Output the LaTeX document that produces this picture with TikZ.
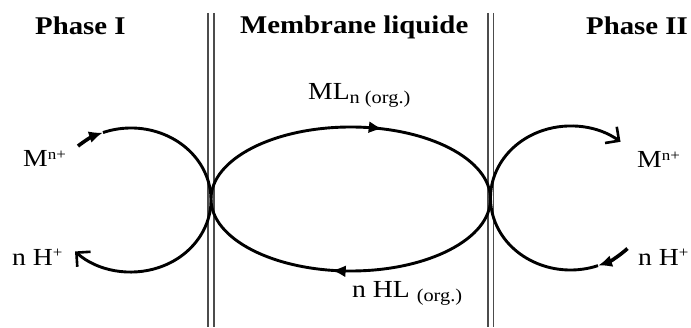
\documentclass[tikz,border=0pt]{standalone}
\usepackage{fontspec}
\usetikzlibrary{arrows.meta,decorations.markings,calc}
\newfontfamily\mainf[FakeStretch=1.13]{Liberation Serif}
\newcommand{\bigtxt}{\mainf\fontsize{24.5}{24.5}\selectfont}
\newcommand{\suptxt}[1]{\raisebox{7.5pt}{\mainf\fontsize{15}{15}\selectfont #1}}
\newcommand{\subtxt}[1]{\raisebox{-4pt}{\mainf\fontsize{18}{18}\selectfont #1}}
\begin{document}
\begin{tikzpicture}[x=1pt,y=1pt,
  wall/.style={line width=1.9pt,black!70},
  flow/.style={line width=2.9pt,black},
  title/.style={inner sep=0pt,anchor=base west,font=\mainf\fontsize{25.5}{25.5}\selectfont\bfseries},
  lbl/.style={inner sep=0pt,anchor=base west,font=\bigtxt},
  midtip/.style={-{Latex[length=14pt,width=12pt]}},
  endtip/.style={-{Straight Barb[length=10pt,width=20pt,line width=2.6pt]}}]
\useasboundingbox (0,0) rectangle (691,327);
% membrane walls
\coordinate (l1t) at (208,314); \coordinate (l1b) at (208,0);
\coordinate (l2t) at (214,314); \coordinate (l2b) at (214,0);
\coordinate (r1t) at (488,314); \coordinate (r1b) at (488,0);
\coordinate (r2t) at (493.5,314); \coordinate (r2b) at (493.5,0);
\draw[wall] (l1t) -- (l1b);
\draw[wall] (l2t) -- (l2b);
\draw[wall] (r1t) -- (r1b);
\draw[wall] (r2t) -- (r2b);
% titles
\node[title] (p1) at (35,292) {Phase I};
\node[title] (ml) at (240,293) {Membrane liquide};
\node[title] (p2) at (586,292) {Phase II};
% labels
\node[lbl] (m1) at (23,160) {M\suptxt{n+}};
\node[lbl] (h1) at (12,62) {n H\suptxt{+}};
\node[lbl] (m2) at (637,159) {M\suptxt{n+}};
\node[lbl] (h2) at (638,62) {n H\suptxt{+}};
\node[lbl] (mln) at (308,227) {ML\subtxt{n (org.)}};
\node[lbl] (hl) at (352,30) {n HL \subtxt{(org.)}};
% central ellipse (clockwise)
\coordinate (ec) at (350.75,128);
\draw[flow,postaction={decorate},decoration={markings,
   mark=at position 0.297 with {\arrow{Latex[length=14pt,width=12pt]}},
   mark=at position 0.778 with {\arrow{Latex[length=14pt,width=12pt]}}}]
  ([xshift=-139.75pt]ec) arc[start angle=180,end angle=-180,x radius=139.75,y radius=72];
% left loop
\coordinate (lc) at (131,127);
\draw[flow,line width=3.6pt,midtip] ($(lc)+({80*cos(131.5)},{72*sin(131.5)})$) arc[start angle=131.5,end angle=110.5,x radius=80,y radius=72];
\draw[flow,endtip] ($(lc)+({80*cos(110.5)},{72*sin(110.5)})$) arc[start angle=110.5,end angle=-134.4,x radius=80,y radius=72];
% right loop
\coordinate (rc) at (570.5,129);
\draw[flow,line width=3.6pt,midtip] ($(rc)+({80*cos(-44.6)},{72*sin(-44.6)})$) arc[start angle=-44.6,end angle=-69.9,x radius=80,y radius=72];
\draw[flow,endtip] ($(rc)+({80*cos(-69.9)},{72*sin(-69.9)})$) arc[start angle=-69.9,end angle=-308.7,x radius=80,y radius=72];
\end{tikzpicture}
\end{document}
